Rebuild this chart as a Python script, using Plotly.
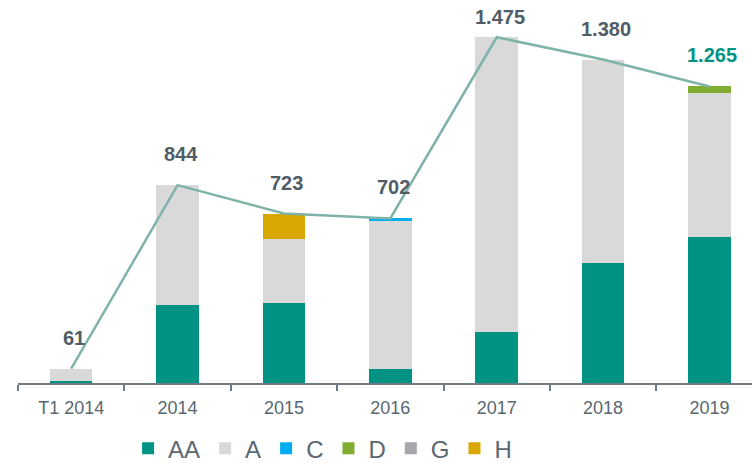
import plotly.graph_objects as go

categories = ["T1 2014", "2014", "2015", "2016", "2017", "2018", "2019"]
totals = [61, 844, 723, 702, 1475, 1380, 1265]
total_labels = ["61", "844", "723", "702", "1.475", "1.380", "1.265"]
AA = [10, 333, 341, 60, 218, 511, 622]
A = [51, 511, 274, 629, 1257, 869, 615]
C = [0, 0, 0, 13, 0, 0, 0]
D = [0, 0, 0, 0, 0, 0, 28]
G = [0, 0, 0, 0, 0, 0, 0]
H = [0, 0, 108, 0, 0, 0, 0]

series = [("AA", AA, "#009384"), ("A", A, "#d9d9d9"), ("C", C, "#00aeef"),
          ("D", D, "#80ac32"), ("G", G, "#a6a8ab"), ("H", H, "#d9a800")]

label_colors = ["#505d66"] * 6 + ["#009384"]

fig = go.Figure()
for name, vals, col in series:
    fig.add_trace(go.Bar(x=categories, y=vals, name=name, marker_color=col,
                         marker_line_width=0, width=0.4))

fig.add_trace(go.Scatter(x=categories, y=totals, mode="lines",
                         line=dict(color="#7fb3a9", width=2.5),
                         showlegend=False, hoverinfo="skip"))

peak = max(totals)
for i, (tot, lab, col) in enumerate(zip(totals, total_labels, label_colors)):
    # the tallest label is tucked closer to its bar so it stays inside the page
    shift = 7 if tot == peak else 18
    fig.add_annotation(x=i, y=tot, text="<b>%s</b>" % lab, showarrow=False,
                       xref="x", yref="y", yanchor="bottom", yshift=shift, xshift=3,
                       font=dict(family="Liberation Sans, Arial", size=20, color=col))

fig.update_layout(
    width=752, height=464,
    margin=dict(l=18, r=0, t=20, b=80.7, autoexpand=False),
    barmode="stack",
    plot_bgcolor="white", paper_bgcolor="white",
    font=dict(family="Liberation Sans, Arial", color="#5a6770"),
    xaxis=dict(range=[-0.5, 6.4], showline=True, linecolor="#6e7b84", linewidth=1.5,
               ticks="outside", tickson="boundaries", ticklen=6, tickcolor="#6e7b84",
               tickwidth=1.5, tickfont=dict(size=18, color="#5a6770"), showgrid=False,
               zeroline=False, ticklabelstandoff=8),
    yaxis=dict(range=[0, 1548.6], visible=False, showgrid=False, zeroline=False),
    legend=dict(orientation="h", x=0.15, xanchor="left", y=-0.181, yanchor="middle",
                font=dict(size=24, color="#5a6770"), traceorder="normal",
                itemwidth=30, tracegroupgap=0),
    showlegend=True,
)

fig.write_html("out.html")
